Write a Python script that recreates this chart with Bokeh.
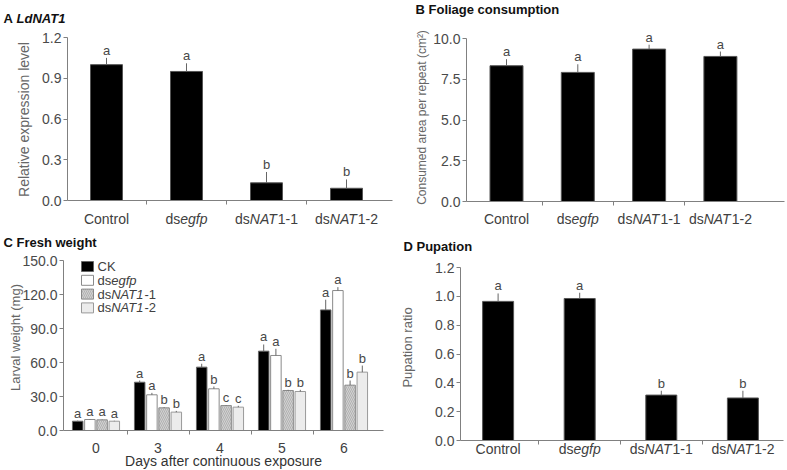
import math
from bokeh.plotting import figure
from bokeh.models import (ColumnDataSource, FixedTicker, NumeralTickFormatter, Label,
                          LabelSet, BoxAnnotation, Range1d)
from bokeh.core.properties import value
from bokeh.layouts import column, row
from bokeh.embed import file_html
from bokeh.resources import INLINE

# ---------------- data ----------------
categories = ["Control", "dsegfp", "dsNAT1-1", "dsNAT1-2"]

expr_mean = [1.00, 0.95, 0.13, 0.09]
expr_err = [0.05, 0.06, 0.08, 0.065]
expr_letters = ["a", "a", "b", "b"]
expr_ticks = [0.0, 0.3, 0.6, 0.9, 1.2]

cons_mean = [8.33, 7.92, 9.35, 8.90]
cons_err = [0.40, 0.50, 0.27, 0.30]
cons_letters = ["a", "a", "a", "a"]
cons_ticks = [0.0, 2.5, 5.0, 7.5, 10.0]

days = ["0", "3", "4", "5", "6"]
groups = ["CK", "dsegfp", "dsNAT1-1", "dsNAT1-2"]
weight_ck = [8.2, 42.6, 55.9, 70.0, 106.4]
weight_ck_err = [0.5, 1.5, 3.0, 5.9, 9.0]
weight_egfp = [9.7, 31.5, 36.8, 66.2, 123.5]
weight_egfp_err = [0.4, 1.7, 2.0, 5.9, 3.0]
weight_nat1 = [9.4, 20.0, 22.0, 35.3, 40.0]
weight_nat1_err = [0.4, 0.6, 0.4, 0.6, 4.1]
weight_nat2 = [8.2, 16.2, 20.6, 34.4, 51.5]
weight_nat2_err = [0.4, 1.1, 1.2, 1.5, 5.8]
letters_ck = ["a", "a", "a", "a", "a"]
letters_egfp = ["a", "a", "b", "a", "a"]
letters_nat1 = ["a", "b", "c", "b", "b"]
letters_nat2 = ["a", "b", "c", "b", "b"]
weight_ticks = [0.0, 30.0, 60.0, 90.0, 120.0, 150.0]

pup_mean = [0.965, 0.985, 0.315, 0.295]
pup_err = [0.055, 0.04, 0.03, 0.05]
pup_letters = ["a", "a", "b", "b"]
pup_ticks = [0.0, 0.2, 0.4, 0.6, 0.8, 1.0, 1.2]

# ---------------- styling helpers ----------------
FONT = "Liberation Sans"
AX = "#808080"
TXT = "#404040"

REG = {' ': 278, '-': 333, '.': 278, '(': 333, ')': 333, '0': 556, '1': 556, '2': 556,
       'A': 667, 'B': 667, 'C': 722, 'D': 722, 'F': 611, 'K': 667, 'L': 556, 'N': 722,
       'P': 667, 'T': 611, 'a': 556, 'c': 500, 'd': 556, 'e': 556, 'f': 278, 'g': 556,
       'h': 556, 'i': 222, 'l': 222, 'm': 833, 'n': 556, 'o': 556, 'p': 556, 'r': 333,
       's': 500, 't': 278, 'u': 556, 'w': 722, 'y': 500}
BOLD = {' ': 278, '-': 333, '1': 556, 'A': 722, 'B': 722, 'C': 722, 'D': 722, 'F': 611,
        'L': 611, 'N': 722, 'P': 667, 'T': 611, 'a': 556, 'c': 556, 'd': 611, 'e': 556,
        'f': 333, 'g': 611, 'h': 611, 'i': 278, 'l': 278, 'm': 889, 'n': 611, 'o': 611,
        'p': 611, 'r': 389, 's': 556, 't': 333, 'u': 611, 'w': 778}


def text_width(s, size, style):
    tbl = BOLD if "bold" in style else REG
    return sum(tbl.get(c, 556) for c in s) * size / 1000.0


def split_label(name, nat_italic_digit=False):
    if name.startswith("dsegfp"):
        return [("ds", "normal"), ("egfp", "italic")]
    if name.startswith("dsNAT1"):
        if nat_italic_digit:
            return [("ds", "normal"), ("NAT1", "italic"), (name[6:], "normal")]
        return [("ds", "normal"), ("NAT", "italic"), (name[5:], "normal")]
    return [(name, "normal")]


class Panel:
    """A figure whose frame fills its whole canvas; axes are pinned inside it."""

    def __init__(self, canvas, axes_box, c0, sp, ymax):
        cx, cy, w, h = canvas
        fl, ft, fr, fb = axes_box
        self.c0, self.sp, self.fb = c0, sp, fb
        self.scale = ymax / float(fb - ft)
        self.p = figure(width=w, height=h, output_backend="svg", toolbar_location=None,
                        x_range=Range1d(self.X(cx), self.X(cx + w)),
                        y_range=Range1d(self.Y(cy + h), self.Y(cy)),
                        min_border=0, min_border_left=0, min_border_right=0,
                        min_border_top=0, min_border_bottom=0)
        p = self.p
        p.outline_line_color = None
        p.grid.visible = False
        p.background_fill_color = "white"
        p.border_fill_color = "white"
        p.yaxis.fixed_location = self.X(fl)
        p.yaxis.bounds = (0, ymax)
        p.xaxis.fixed_location = 0
        p.xaxis.bounds = (self.X(fl), self.X(fr))

    def X(self, px):
        return (px - self.c0) / self.sp

    def Y(self, py):
        return (self.fb - py) * self.scale

    def rich(self, x, y, pieces, size, align="center", baseline="middle", color=TXT):
        widths = [text_width(t, size, st) for t, st in pieces]
        start = -(sum(widths) / 2.0) if align == "center" else 0.0
        for (t, st), w in zip(pieces, widths):
            self.p.add_layout(Label(x=x, y=y, x_units="data", y_units="data",
                                    x_offset=start, text=t, text_font=FONT,
                                    text_font_size=f"{size}px", text_font_style=st,
                                    text_color=color, text_align="left",
                                    text_baseline=baseline))
            start += w

    def text_px(self, px, py, txt, size, style="normal", align="left", color=TXT,
                angle=0.0, baseline="middle"):
        self.p.add_layout(Label(x=self.X(px), y=self.Y(py), text=txt, text_font=FONT,
                                text_font_size=f"{size}px", text_font_style=style,
                                text_color=color, text_align=align,
                                text_baseline=baseline, angle=angle))


def style_y(p, ticks, tick_size=14):
    ax = p.yaxis[0]
    ax.ticker = FixedTicker(ticks=ticks)
    ax.formatter = NumeralTickFormatter(format="0.0")
    ax.axis_line_color = AX
    ax.major_tick_line_color = AX
    ax.major_tick_out = 4
    ax.major_tick_in = 0
    ax.minor_tick_line_color = None
    ax.major_label_text_font = FONT
    ax.major_label_text_font_size = f"{tick_size}px"
    ax.major_label_text_color = "#4a4a4a"
    ax.major_label_standoff = 2


def style_x_boundaries(ax, n):
    ax.ticker = FixedTicker(ticks=[], minor_ticks=[i + 0.5 for i in range(n - 1)])
    ax.axis_line_color = AX
    ax.major_tick_line_color = None
    ax.major_tick_out = 0
    ax.minor_tick_line_color = AX
    ax.minor_tick_out = 4
    ax.minor_tick_in = 0
    ax.major_label_text_font_size = "1px"


def add_letters(p, src):
    p.add_layout(LabelSet(x="x", y="etop", text="letter", source=src, y_offset=3,
                          text_align="center", text_baseline="alphabetic",
                          text_font=value(FONT), text_font_size="13px",
                          text_color="#474747"))


def bar_panel(canvas, box, c0, sp, bw_px, means, errs, letters, ticks, ymax,
              ylabel, ylabel_size, ylabel_xy, title_pieces, title_xy, label_cy):
    P = Panel(canvas, box, c0, sp, ymax)
    p = P.p
    xs = list(range(len(categories)))
    src = ColumnDataSource(dict(x=xs, top=means,
                                etop=[m + e for m, e in zip(means, errs)],
                                letter=letters))
    p.vbar(x="x", top="top", width=bw_px / sp, source=src, fill_color="black",
           line_color="#555555", line_width=1)
    p.segment(x0="x", y0="top", x1="x", y1="etop", source=src, line_color="#666666",
              line_width=1)
    add_letters(p, src)
    style_y(p, ticks)
    style_x_boundaries(p.xaxis[0], len(categories))
    for i, name in enumerate(categories):
        P.rich(i, P.Y(label_cy), split_label(name), 14)
    P.text_px(ylabel_xy[0], ylabel_xy[1], ylabel, ylabel_size, align="center",
              color="#666666", angle=math.pi / 2)
    P.rich(P.X(title_xy[0]), P.Y(title_xy[1]), title_pieces, 13, align="left",
           color="#111111")
    return p


# ---------------- panel A ----------------
pA = bar_panel((0, 0, 393, 230), (67, 37, 392, 200), 106, 80, 32,
               expr_mean, expr_err, expr_letters, expr_ticks, 1.2,
               "Relative expression level", 14, (23, 119),
               [("A ", "bold"), ("LdNAT1", "bold italic")], (3, 18), 218)

# ---------------- panel B ----------------
pB = bar_panel((393, 0, 393, 230), (466, 38, 784, 201), 506, 71.3, 33,
               cons_mean, cons_err, cons_letters, cons_ticks, 10.0,
               "Consumed area per repeat (cm²)", 12, (421, 117),
               [("B Foliage consumption", "bold")], (415, 9), 218)

# ---------------- panel C ----------------
boxC = (63, 260, 383, 430)
PC = Panel((0, 230, 393, 239), boxC, 95.5, 62.0, 150.0)
pC = PC.p
bar_w = 10.5 / PC.sp
bar_step = 12.2 / PC.sp
series = [
    (weight_ck, weight_ck_err, letters_ck, dict(fill_color="black", line_color="#666666")),
    (weight_egfp, weight_egfp_err, letters_egfp, dict(fill_color="white", line_color="#8a8a8a")),
    (weight_nat1, weight_nat1_err, letters_nat1,
     dict(fill_color="#d2d2d2", line_color="#8a8a8a", hatch_pattern="\\",
          hatch_color="#a8a8a8", hatch_scale=4, hatch_weight=0.8)),
    (weight_nat2, weight_nat2_err, letters_nat2, dict(fill_color="#ececec", line_color="#9a9a9a")),
]
for k, (vals, errs, lets, sty) in enumerate(series):
    off = (k - 1.5) * bar_step
    xs = [i + off for i in range(len(days))]
    src = ColumnDataSource(dict(x=xs, top=vals, etop=[v + e for v, e in zip(vals, errs)],
                                letter=lets))
    pC.vbar(x="x", top="top", width=bar_w, source=src, line_width=1, **sty)
    pC.segment(x0="x", y0="top", x1="x", y1="etop", source=src, line_color="#666666",
               line_width=1)
    add_letters(pC, src)
style_y(pC, weight_ticks, tick_size=14)
axC = pC.xaxis[0]
axC.ticker = FixedTicker(ticks=list(range(len(days))),
                         minor_ticks=[i + 0.5 for i in range(len(days) - 1)])
axC.major_label_overrides = {i: d for i, d in enumerate(days)}
axC.axis_line_color = AX
axC.major_tick_line_color = None
axC.major_tick_out = 0
axC.minor_tick_line_color = AX
axC.minor_tick_out = 4
axC.minor_tick_in = 0
axC.major_label_text_font = FONT
axC.major_label_text_font_size = "14px"
axC.major_label_text_color = TXT
axC.major_label_standoff = 8
PC.text_px(15, 337, "Larval weight (mg)", 13, align="center", color="#666666",
           angle=math.pi / 2)
PC.text_px(223, 468, "Days after continuous exposure", 14, align="center",
           color="#333333", baseline="bottom")

# legend for panel C (swatches + rich text)
for i, (name, s) in enumerate(zip(groups, series)):
    sty = s[3]
    cy_px = 266 + 13.8 * i
    box = dict(left=PC.X(81), right=PC.X(93), top=PC.Y(cy_px - 5), bottom=PC.Y(cy_px + 5),
               fill_color=sty["fill_color"], fill_alpha=1.0, line_color=sty["line_color"],
               line_alpha=1.0, line_width=1)
    if "hatch_pattern" in sty:
        box.update(hatch_pattern=sty["hatch_pattern"], hatch_color=sty["hatch_color"],
                   hatch_scale=sty["hatch_scale"], hatch_weight=sty["hatch_weight"])
    pC.add_layout(BoxAnnotation(**box))
    PC.rich(PC.X(97), PC.Y(cy_px), split_label(name, nat_italic_digit=True), 13,
            align="left")
PC.rich(PC.X(3), PC.Y(242), [("C Fresh weight", "bold")], 13, align="left",
        color="#111111")

# ---------------- panel D ----------------
pD = bar_panel((393, 230, 393, 239), (460, 267, 783, 440), 497.6, 81.6, 31,
               pup_mean, pup_err, pup_letters, pup_ticks, 1.2,
               "Pupation ratio", 13, (407, 347),
               [("D Pupation", "bold")], (403, 246), 448)

layout = column(row(pA, pB), row(pC, pD))
open("out.html", "w").write(file_html(layout, INLINE))
